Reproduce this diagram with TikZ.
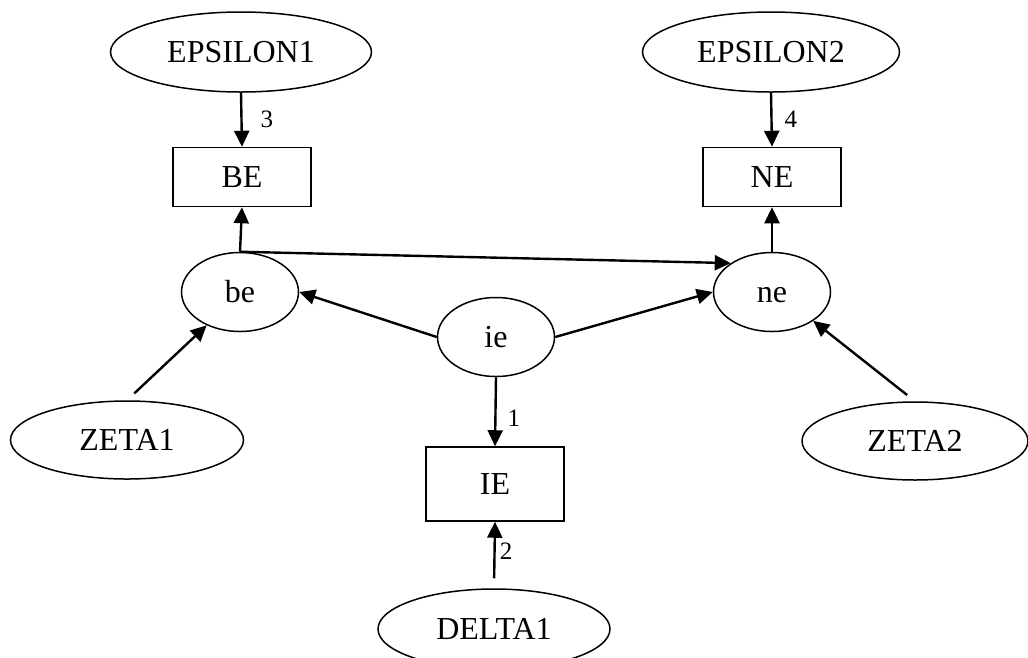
\documentclass[tikz,border=0pt]{standalone}
\usepackage{fontspec}
\setmainfont{Liberation Serif}
\usepackage{tikz}
\usetikzlibrary{arrows.meta,shapes.geometric}
\tikzstyle{bigoval}=[ellipse, draw, line width=1.5pt, inner sep=0pt, minimum width=236pt, minimum height=78pt, font=\fontsize{32}{38}\selectfont]
\tikzstyle{smalloval}=[ellipse, draw, line width=1.5pt, inner sep=0pt, minimum width=117pt, minimum height=79pt, text height=21pt, text depth=1pt, font=\fontsize{32}{38}\selectfont]
\tikzstyle{factor}=[rectangle, draw, line width=1.5pt, inner sep=0pt, minimum width=138pt, minimum height=59pt, font=\fontsize{32}{38}\selectfont]
\tikzstyle{arrow}=[line width=2.4pt, -{Triangle[length=16pt,width=15pt]}]
\tikzstyle{num}=[font=\fontsize{25}{30}\selectfont, inner sep=0pt, anchor=west]

\begin{document}
\begin{tikzpicture}[x=1pt, y=-1pt]
    \clip (0,0) rectangle (1028,657);

    % Indicators
    \node[bigoval, minimum width=261pt, minimum height=80pt] (eps1) at (241,52) {EPSILON1};
    \node[bigoval, minimum width=257pt, minimum height=80pt] (eps2) at (771,52) {EPSILON2};
    \node[bigoval, minimum width=233pt] (zeta1) at (127,440) {ZETA1};
    \node[bigoval, minimum width=226pt] (zeta2) at (915,441) {ZETA2};
    \node[bigoval, minimum width=232pt, minimum height=80pt] (delta1) at (494,629) {DELTA1};

    % Latent variables
    \node[smalloval] (be) at (240,292) {be};
    \node[smalloval] (ie) at (496,337) {ie};
    \node[smalloval] (ne) at (772,292) {ne};

    % Observed
    \node[factor] (BE) at (242,177) {BE};
    \node[factor] (NE) at (772,177) {NE};
    \node[factor, minimum height=74pt] (IE) at (495,484) {IE};

    % Paths
    \draw[arrow] (eps1.south) -- (BE.north) node[num, midway, xshift=18pt] (l3) {3};
    \draw[arrow] (eps2.south) -- (NE.north) node[num, midway, xshift=12pt] (l4) {4};
    \draw[arrow] (be.north) -- (BE.south);
    \draw[arrow] (ne.north) -- (NE.south);
    \draw[arrow] (be.north) -- (ne.145);
    \draw[arrow] (ie.west) -- (be.east);
    \draw[arrow] (ie.east) -- (ne.west);
    \draw[arrow, shorten <=10pt] (zeta1.north) -- (be.225);
    \draw[arrow, shorten <=10pt] (zeta2.north) -- (ne.-35);
    \draw[arrow] (ie.south) -- (IE.north) node[num, midway, xshift=11pt, yshift=-6pt] (l1) {1};
    \draw[arrow, shorten <=10pt] (delta1.north) -- (IE.south) node[num, pos=0.55, xshift=4pt] (l2) {2};

\end{tikzpicture}
\end{document}
